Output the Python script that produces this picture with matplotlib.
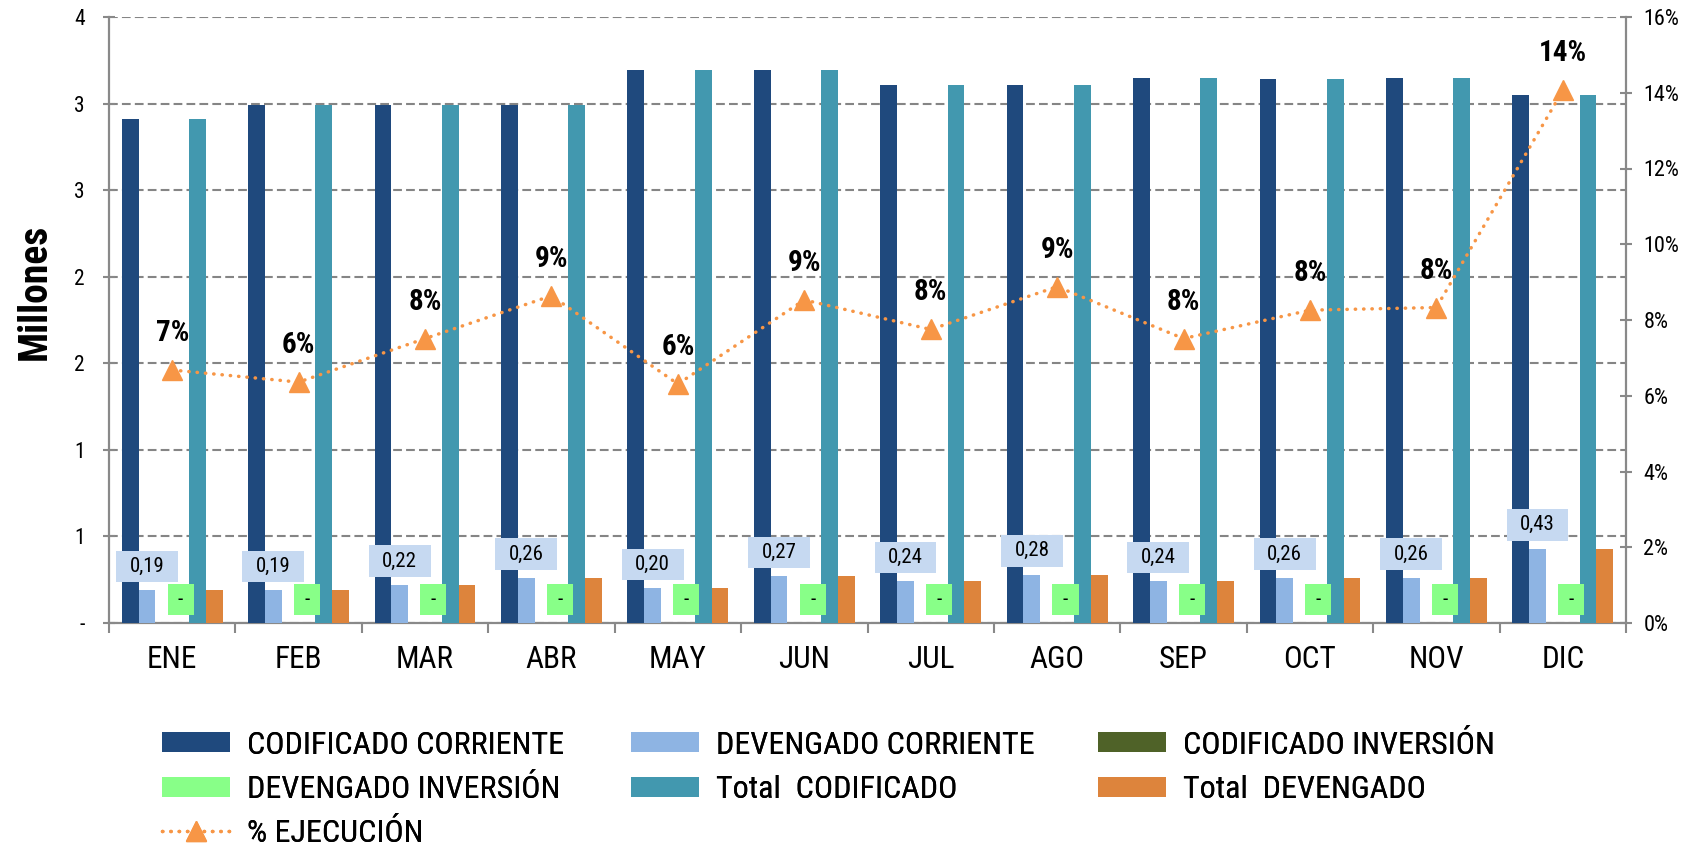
import numpy as np
import matplotlib
matplotlib.use("Agg")
import matplotlib.pyplot as plt
from matplotlib import font_manager as fm
from matplotlib.path import Path
from matplotlib.patches import Patch
from matplotlib.lines import Line2D
from matplotlib.ticker import FuncFormatter, FixedLocator

# ---------------- data ----------------
meses = ["ENE", "FEB", "MAR", "ABR", "MAY", "JUN", "JUL", "AGO", "SEP", "OCT", "NOV", "DIC"]
codificado_corriente = [2.91, 2.99, 2.99, 2.99, 3.195, 3.195, 3.11, 3.11, 3.15, 3.14, 3.15, 3.05]
devengado_corriente = [0.19, 0.19, 0.22, 0.26, 0.20, 0.27, 0.24, 0.28, 0.24, 0.26, 0.26, 0.43]
codificado_inversion = [0, 0, 0, 0, 0, 0, 0, 0, 0, 0, 0, 0]
devengado_inversion = [0, 0, 0, 0, 0, 0, 0, 0, 0, 0, 0, 0]
total_codificado = [2.91, 2.99, 2.99, 2.99, 3.195, 3.195, 3.11, 3.11, 3.15, 3.14, 3.15, 3.05]
total_devengado = [0.19, 0.19, 0.22, 0.26, 0.20, 0.27, 0.24, 0.28, 0.24, 0.26, 0.26, 0.43]
pct_ejecucion = [0.0668, 0.0636, 0.0751, 0.0864, 0.0631, 0.0853, 0.0775, 0.0888, 0.0751, 0.0826, 0.0833, 0.1406]

series_names = ["CODIFICADO CORRIENTE", "DEVENGADO CORRIENTE", "CODIFICADO INVERSIÓN",
                "DEVENGADO INVERSIÓN", "Total  CODIFICADO", "Total  DEVENGADO"]
line_name = "% EJECUCIÓN"
y_left_ticks = [0, 0.5, 1.0, 1.5, 2.0, 2.5, 3.0, 3.5]
y_right_ticks = [0, 0.02, 0.04, 0.06, 0.08, 0.10, 0.12, 0.14, 0.16]

# ---------------- style ----------------
colors = ["#1F497D", "#8EB4E3", "#4F6228", "#88FF88", "#4298AF", "#DD843C"]
line_color = "#F79646"
grey = "#898989"
label_box_blue = "#C6D9F1"
label_box_green = "#88FF88"

available = {f.name for f in fm.fontManager.ttflist}
FONT, K = "DejaVu Sans", 0.8
for name, k in [("Liberation Sans Narrow", 1.0), ("Roboto Condensed", 1.0), ("Roboto", 0.9)]:
    if name in available:
        FONT, K = name, k
        break
plt.rcParams["font.family"] = [FONT, "DejaVu Sans"]

W, H = 1696, 848
fig = plt.figure(figsize=(W / 100, H / 100), dpi=100)
left, right, top, bottom = 109, 1626, 17, 623
ax = fig.add_axes([left / W, 1 - bottom / H, (right - left) / W, (bottom - top) / H])
ax2 = ax.twinx()

x = np.arange(len(meses))
bw = 0.133
all_series = [codificado_corriente, devengado_corriente, codificado_inversion,
              devengado_inversion, total_codificado, total_devengado]
bar_containers = []
for i, (vals, c, nm) in enumerate(zip(all_series, colors, series_names)):
    bc = ax.bar(x + (i - 2.5) * bw, vals, width=bw, color=c, label=nm, zorder=3,
                edgecolor="none")
    bar_containers.append(bc)

ax.set_xlim(-0.5, len(meses) - 0.5)
ax.set_ylim(0, 3.5)
ax2.set_ylim(0, 0.16)

ax.yaxis.set_major_locator(FixedLocator(y_left_ticks))


def excel_int(v, pos=None):
    if abs(v) < 1e-9:
        return "-"
    return str(int(np.floor(v + 0.5)))


ax.yaxis.set_major_formatter(FuncFormatter(excel_int))
ax2.yaxis.set_major_locator(FixedLocator(y_right_ticks))
ax2.yaxis.set_major_formatter(FuncFormatter(lambda v, p: f"{v * 100:.0f}%"))

ax.set_xticks(x)
ax.set_xticklabels(meses)
ax.set_xticks(np.arange(len(meses) + 1) - 0.5, minor=True)

ax.grid(axis="y", which="major", color="#858585", linestyle=(0, (4.2, 2.0)), linewidth=1.5, zorder=0)
ax.set_axisbelow(True)

for s in ["top", "right"]:
    ax.spines[s].set_visible(False)
for s in ["left", "bottom"]:
    ax.spines[s].set_color(grey)
    ax.spines[s].set_linewidth(1.6)
for s in ["top", "left", "bottom"]:
    ax2.spines[s].set_visible(False)
ax2.spines["right"].set_color(grey)
ax2.spines["right"].set_linewidth(1.6)

ax.tick_params(axis="y", direction="inout", length=9, width=1.5, color=grey, pad=13,
               labelsize=15.5 * K)
ax.tick_params(axis="x", which="major", length=0, pad=16, labelsize=22.5 * K)
ax.tick_params(axis="x", which="minor", direction="out", length=7, width=1.5, color=grey)
ax2.tick_params(axis="y", direction="inout", length=9, width=1.5, color=grey, pad=8,
                labelsize=16 * K)

fig.text(35 / W, 1 - 292 / H, "Millones", rotation=90, ha="center", va="center",
         fontsize=28.5 * K, fontweight="bold")


# ---------------- data labels ----------------
class PadBox:
    def __init__(self, padx, pady):
        self.padx, self.pady = padx, pady

    def __call__(self, x0, y0, width, height, mutation_size):
        px = self.padx * mutation_size
        py = self.pady * mutation_size
        x0, y0 = x0 - px, y0 - py
        w, h = width + 2 * px, height + 2 * py
        return Path([(x0, y0), (x0 + w, y0), (x0 + w, y0 + h), (x0, y0 + h), (x0, y0)],
                    closed=True)


dl_size = 15 * K
pady = 0.3
off_px = 8 + pady * dl_size * 100 / 72


def fmt_label(v):
    if abs(v) < 1e-9:
        return "-"
    return f"{v:.2f}".replace(".", ",")


for idx, box_col, padx in [(1, label_box_blue, 0.65), (3, label_box_green, 0.5)]:
    for rect, v in zip(bar_containers[idx], all_series[idx]):
        cx = rect.get_x() + rect.get_width() / 2
        ax.annotate(fmt_label(v), xy=(cx, v), xytext=(0, off_px), textcoords="offset pixels",
                    ha="center", va="bottom", fontsize=dl_size, color="black", zorder=5,
                    bbox=dict(boxstyle=PadBox(padx, pady), facecolor=box_col, edgecolor="none"))

# ---------------- line ----------------
ax2.plot(x, pct_ejecucion, color=line_color, linewidth=2.5, linestyle=(0, (0.1, 2.3)),
         dash_capstyle="round", marker="^", markersize=14, markerfacecolor=line_color,
         markeredgecolor=line_color, zorder=4, label=line_name)
for xi, p in zip(x, pct_ejecucion):
    ax2.annotate(f"{p * 100:.0f}%", xy=(xi, p), xytext=(0, 37), textcoords="offset pixels",
                 ha="center", va="center", fontsize=21 * K, fontweight="bold")

# ---------------- legend ----------------
leg_fs = 23 * K
fs_px = leg_fs * 100 / 72
handles = [Patch(facecolor=c, edgecolor="none") for c in colors]
handles.append(Line2D([], [], color=line_color, linewidth=2.5, linestyle=(0, (0.1, 2.3)),
                      dash_capstyle="round", marker="^", markersize=14,
                      markerfacecolor=line_color, markeredgecolor=line_color))
labels = series_names + [line_name]
col_x = [162, 631, 1098]
row_y = [745, 790, 833]
for k, (h, lab) in enumerate(zip(handles, labels)):
    r, c = divmod(k, 3)
    lg = fig.legend([h], [lab], loc="center left",
                    bbox_to_anchor=(col_x[c] / W, 1 - row_y[r] / H),
                    frameon=False, fontsize=leg_fs, borderpad=0, borderaxespad=0,
                    handlelength=68 / fs_px, handleheight=18 / fs_px,
                    handletextpad=17 / fs_px)
    fig.add_artist(lg)

fig.savefig("out.png", dpi=100)
